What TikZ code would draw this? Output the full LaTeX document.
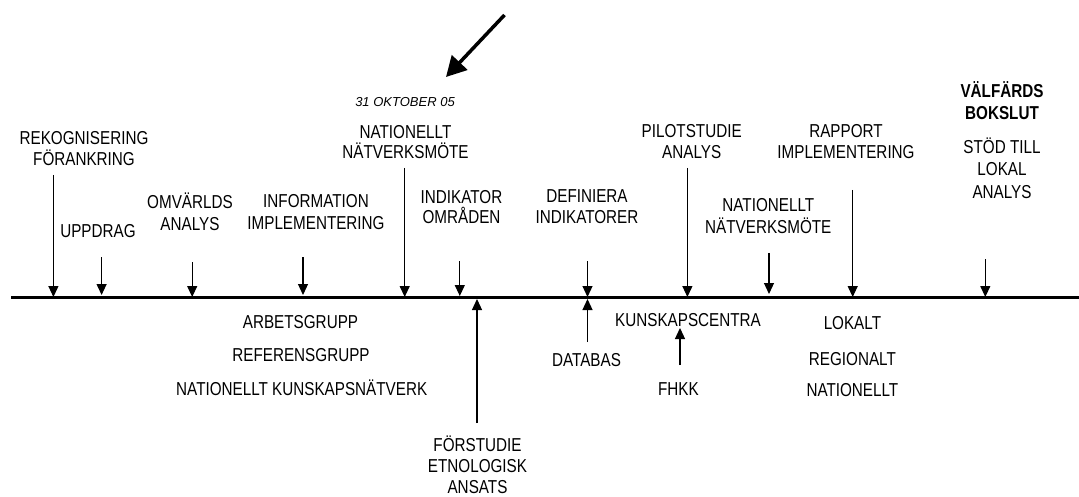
\documentclass[tikz,border=0pt]{standalone}
\usepackage{fontspec}
\usepackage{graphicx}
\setmainfont{Liberation Sans}
\usetikzlibrary{arrows.meta}
\newcommand{\sq}[1]{\scalebox{0.815}[1]{#1}}
\tikzset{
  lbl/.style={anchor=base, align=center, inner sep=0pt, font=\fontsize{18.7}{#1}\selectfont},
  lbl/.default=21.5,
  boldlbl/.style={lbl=22.5, font=\fontsize{18.7}{22.5}\selectfont\bfseries},
  datelbl/.style={anchor=base, inner sep=0pt, font=\fontsize{13}{15}\selectfont\itshape},
  tick/.style={line width=1.2pt, -{Triangle[length=11pt,width=10pt]}},
  timeline/.style={line width=3.5pt},
  bigarrow/.style={line width=3.5pt, -{Triangle[length=20pt,width=21pt]}}
}
\begin{document}
\begin{tikzpicture}[x=1pt,y=-1pt]
\useasboundingbox (0,0) rectangle (1079,497);
% timeline
\coordinate (L) at (11,297.5);
\coordinate (R) at (1079,297.5);
\draw[timeline] (L) -- (R);
% big arrow
\coordinate (bs) at (504.5,15);
\coordinate (be) at (446,77);
\draw[bigarrow] (bs) -- (be);
% labels above the line (position = baseline of last line)
\node[lbl=21.5] (rek) at (84,166) {\sq{REKOGNISERING}\\\sq{FÖRANKRING}};
\node[lbl] (upp) at (98,237) {\sq{UPPDRAG}};
\node[lbl=21.7] (omv) at (190,230) {\sq{OMVÄRLDS}\\\sq{ANALYS}};
\node[lbl=22] (inf) at (316,229.5) {\sq{INFORMATION}\\\sq{IMPLEMENTERING}};
\node[datelbl] (dat) at (405,106.7) {31 OKTOBER 05};
\node[lbl=20] (nat1) at (405.5,158.3) {\sq{NATIONELLT}\\\sq{NÄTVERKSMÖTE}};
\node[lbl=20] (ind) at (461.5,223.7) {\sq{INDIKATOR}\\\sq{OMRÅDEN}};
\node[lbl=21] (def) at (587,223.3) {\sq{DEFINIERA}\\\sq{INDIKATORER}};
\node[lbl=21] (pil) at (691.7,158.3) {\sq{PILOTSTUDIE}\\\sq{ANALYS}};
\node[lbl=21.6] (nat2) at (768.3,233.3) {\sq{NATIONELLT}\\\sq{NÄTVERKSMÖTE}};
\node[lbl=21] (rap) at (846,158.3) {\sq{RAPPORT}\\\sq{IMPLEMENTERING}};
\node[boldlbl] (val) at (1002,120) {\sq{VÄLFÄRDS}\\\sq{BOKSLUT}};
\node[lbl=22.5] (sto) at (1002,198.5) {\sq{STÖD TILL}\\\sq{LOKAL}\\\sq{ANALYS}};
% labels below the line
\node[lbl] (arb) at (300.5,328.5) {\sq{ARBETSGRUPP}};
\node[lbl] (ref) at (301,361.7) {\sq{REFERENSGRUPP}};
\node[lbl] (nkn) at (301.7,395) {\sq{NATIONELLT KUNSKAPSNÄTVERK}};
\node[lbl=21] (for) at (477.5,493.5) {\sq{FÖRSTUDIE}\\\sq{ETNOLOGISK}\\\sq{ANSATS}};
\node[lbl] (dbs) at (586.5,366.7) {\sq{DATABAS}};
\node[lbl] (kun) at (688,326.7) {\sq{KUNSKAPSCENTRA}};
\node[lbl] (fhk) at (678.5,395) {\sq{FHKK}};
\node[lbl] (lok) at (852.4,329.3) {\sq{LOKALT}};
\node[lbl] (reg) at (852.4,365) {\sq{REGIONALT}};
\node[lbl] (nat3) at (852.4,396.5) {\sq{NATIONELLT}};
% down ticks
\coordinate (a1) at (53.4,175);  \coordinate (t1) at (53.4,297);
\coordinate (a2) at (101.6,257); \coordinate (t2) at (101.6,295);
\coordinate (a3) at (192.2,262); \coordinate (t3) at (192.2,297);
\coordinate (a4) at (303,257);   \coordinate (t4) at (303,295);
\coordinate (a5) at (404.7,168); \coordinate (t5) at (404.7,297);
\coordinate (a6) at (459.8,261); \coordinate (t6) at (459.8,296);
\coordinate (a7) at (587.5,261); \coordinate (t7) at (587.5,297);
\coordinate (a8) at (687.4,168); \coordinate (t8) at (687.4,297);
\coordinate (a9) at (769,253);   \coordinate (t9) at (769,294);
\coordinate (a10) at (852.7,190); \coordinate (t10) at (852.7,297);
\coordinate (a11) at (985.3,259); \coordinate (t11) at (985.3,297);
\foreach \i in {1,...,11} { \draw[tick] (a\i) -- (t\i); }
% up ticks
\coordinate (u1) at (477,423);  \coordinate (v1) at (477,299);
\coordinate (u2) at (587.5,342); \coordinate (v2) at (587.5,299);
\coordinate (u3) at (680,365);  \coordinate (v3) at (680,328);
\draw[tick] (u1) -- (v1);
\draw[tick] (u2) -- (v2);
\draw[tick] (u3) -- (v3);
\end{tikzpicture}
\end{document}
